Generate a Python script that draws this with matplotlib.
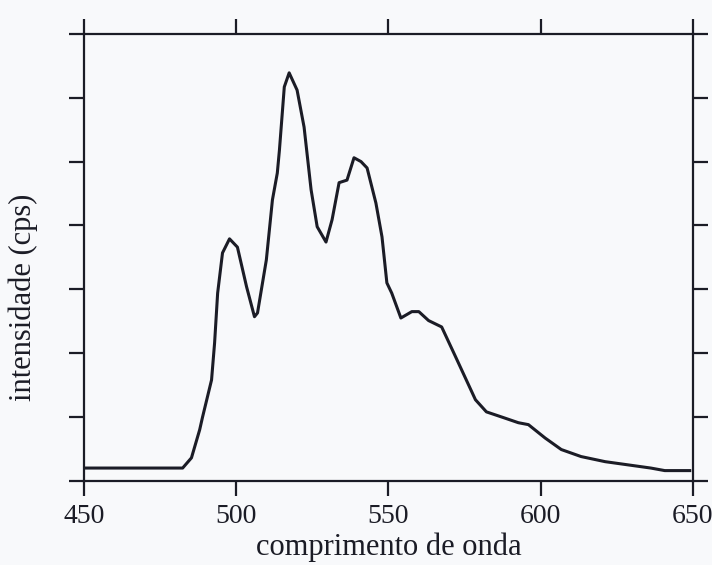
import matplotlib
matplotlib.use("Agg")
import matplotlib.pyplot as plt

# emission spectrum (wavelength in nm, intensity in tick units)
wavelength = [450.0, 482.4, 485.3, 488.0, 488.9, 491.9, 492.9, 493.9, 495.5,
              497.8, 500.4, 503.4, 506.0, 507.0, 509.9, 511.9, 513.5, 514.2,
              515.8, 517.4, 520.0, 522.3, 524.6, 526.6, 529.5, 531.5, 533.8,
              536.4, 538.7, 541.0, 543.0, 545.9, 547.9, 549.5, 551.1, 554.1,
              557.7, 560.0, 563.2, 567.5, 572.1, 578.6, 582.2, 587.8, 592.7,
              596.0, 601.5, 606.8, 613.3, 621.2, 628.7, 636.2, 640.8, 649.0]
intensity = [0.20, 0.20, 0.36, 0.80, 0.99, 1.58, 2.16, 2.94, 3.57,
             3.79, 3.66, 3.04, 2.57, 2.63, 3.46, 4.40, 4.82, 5.18,
             6.17, 6.39, 6.12, 5.54, 4.56, 3.98, 3.74, 4.09, 4.67,
             4.71, 5.06, 5.00, 4.90, 4.35, 3.82, 3.10, 2.94, 2.55,
             2.65, 2.65, 2.51, 2.41, 1.94, 1.27, 1.08, 0.99, 0.91,
             0.88, 0.67, 0.49, 0.38, 0.30, 0.25, 0.20, 0.16, 0.16]

xticks = [450, 500, 550, 600, 650]
yticks = list(range(8))

ink = "#1b1c26"
paper = "#f8f9fb"

fig = plt.figure(figsize=(7.12, 5.65), dpi=100, facecolor=paper)
ax = fig.add_axes([0.118, 0.149, 0.855, 0.791], facecolor=paper)

ax.plot(wavelength, intensity, color=ink, lw=2.2, solid_joinstyle="round")

ax.set_xlim(450, 650)
ax.set_ylim(0, 7)
ax.set_xticks(xticks)
ax.set_yticks(yticks)
ax.set_yticklabels([])

for s in ax.spines.values():
    s.set_color(ink)
    s.set_linewidth(1.6)

ax.tick_params(axis="both", which="major", direction="out", length=11,
               width=1.6, color=ink, top=True, right=True)
ax.tick_params(axis="x", labelsize=20, pad=6, labelcolor=ink)
for lab in ax.get_xticklabels():
    lab.set_family("Liberation Serif")

ax.set_xlabel("comprimento de onda", family="Liberation Serif",
              fontsize=22, color=ink, labelpad=2)
ax.set_ylabel("intensidade (cps)", family="Liberation Serif",
              fontsize=22, color=ink)
ax.yaxis.set_label_coords(-0.075, 0.41)

fig.savefig("out.png", dpi=100, facecolor=paper)
